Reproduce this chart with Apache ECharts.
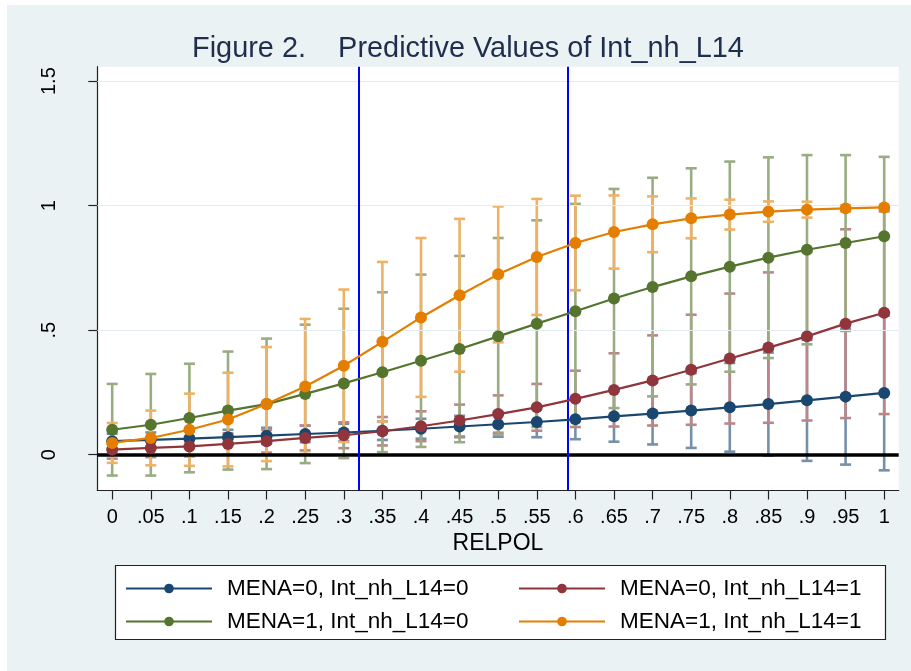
<!DOCTYPE html>
<html>
<head>
<meta charset="utf-8">
<script src="https://cdn.jsdelivr.net/npm/echarts@6/dist/echarts.min.js"></script>
<style>html,body{margin:0;padding:0;background:#fff}#c{width:911px;height:671px}</style>
</head>
<body>
<div id="c"></div>
<script>
const xVals = [0,0.05,0.1,0.15,0.2,0.25,0.3,0.35,0.4,0.45,0.5,0.55,0.6,0.65,0.7,0.75,0.8,0.85,0.9,0.95,1];
const xTickLabels = ['0','.05','.1','.15','.2','.25','.3','.35','.4','.45','.5','.55','.6','.65','.7','.75','.8','.85','.9','.95','1'];
const yTickValues = [0,0.5,1,1.5];
const yTickLabels = ['0','.5','1','1.5'];
const refLinesX = [0.32,0.59];
const seriesNames = ['MENA=0, Int_nh_L14=0','MENA=0, Int_nh_L14=1','MENA=1, Int_nh_L14=0','MENA=1, Int_nh_L14=1'];

const m00 = [0.054,0.059,0.064,0.070,0.076,0.083,0.089,0.096,0.104,0.113,0.122,0.131,0.142,0.154,0.165,0.177,0.190,0.203,0.218,0.233,0.248];
const m00Lo = [0.024,0.029,0.034,0.040,0.044,0.050,0.054,0.059,0.064,0.070,0.072,0.070,0.062,0.052,0.041,0.027,0.012,-0.004,-0.025,-0.040,-0.063];
const m00Hi = [0.084,0.089,0.094,0.100,0.108,0.116,0.124,0.133,0.144,0.156,0.172,0.192,0.222,0.256,0.289,0.327,0.368,0.410,0.461,0.506,0.559];

const m01 = [0.020,0.027,0.033,0.043,0.054,0.067,0.078,0.094,0.114,0.137,0.163,0.190,0.224,0.260,0.298,0.341,0.386,0.430,0.475,0.526,0.570];
const m01Lo = [-0.016,-0.010,-0.007,0.000,0.008,0.017,0.026,0.037,0.054,0.073,0.088,0.096,0.111,0.113,0.117,0.120,0.125,0.128,0.137,0.147,0.163];
const m01Hi = [0.056,0.064,0.073,0.086,0.100,0.117,0.130,0.151,0.174,0.201,0.238,0.284,0.337,0.407,0.479,0.562,0.647,0.732,0.813,0.905,0.977];

const m10 = [0.100,0.120,0.147,0.177,0.203,0.244,0.286,0.331,0.377,0.424,0.475,0.526,0.576,0.627,0.673,0.716,0.755,0.791,0.823,0.850,0.877];
const m10Lo = [-0.084,-0.084,-0.071,-0.060,-0.058,-0.034,-0.014,0.010,0.031,0.050,0.080,0.111,0.145,0.187,0.234,0.282,0.333,0.388,0.443,0.497,0.558];
const m10Hi = [0.284,0.324,0.365,0.414,0.466,0.522,0.586,0.652,0.723,0.798,0.870,0.941,1.007,1.067,1.112,1.150,1.177,1.194,1.203,1.203,1.196];

const m11 = [0.047,0.067,0.100,0.141,0.203,0.274,0.357,0.453,0.551,0.640,0.724,0.794,0.850,0.894,0.925,0.949,0.964,0.976,0.984,0.989,0.993];
const m11Lo = [-0.033,-0.043,-0.045,-0.047,-0.026,0.003,0.051,0.132,0.232,0.333,0.451,0.561,0.660,0.747,0.813,0.869,0.904,0.935,0.952,0.977,0.987];
const m11Hi = [0.127,0.177,0.245,0.329,0.432,0.545,0.663,0.774,0.870,0.947,0.997,1.027,1.040,1.041,1.037,1.029,1.024,1.017,1.016,1.001,0.999];

const lineColors = ['#1a476f','#90353b','#55752f','#e37e00'];
const ciColors = ['#7591a9','#bc8689','#99ac82','#eeb266'];
const FONT = "'Liberation Sans', Arial, sans-serif";

const pts = [m00,m01,m10,m11];
const los = [m00Lo,m01Lo,m10Lo,m11Lo];
const his = [m00Hi,m01Hi,m10Hi,m11Hi];

function ciSeries(k){
  return {
    type:'custom', name:'ci'+k, z:2, silent:true,
    data: xVals.map((x,i)=>[x, los[k][i], his[k][i]]),
    renderItem: function(params, api){
      const x = api.value(0), lo = api.value(1), hi = api.value(2);
      const a = api.coord([x,lo]), b = api.coord([x,hi]);
      const w = 5.5;
      const st = {stroke: ciColors[k], lineWidth: 2.6};
      return {type:'group', children:[
        {type:'line', shape:{x1:a[0],y1:a[1],x2:b[0],y2:b[1]}, style:st},
        {type:'line', shape:{x1:a[0]-w,y1:a[1],x2:a[0]+w,y2:a[1]}, style:st},
        {type:'line', shape:{x1:b[0]-w,y1:b[1],x2:b[0]+w,y2:b[1]}, style:st}
      ]};
    }
  };
}
function lineSeries(k){
  return {
    type:'line', name:seriesNames[k], z:5,
    data: xVals.map((x,i)=>[x, pts[k][i]]),
    symbol:'circle', symbolSize:12, showSymbol:true,
    lineStyle:{color:lineColors[k], width:2.2},
    itemStyle:{color:lineColors[k]},
    emphasis:{disabled:true}, animation:false
  };
}
function labelFor(vals, labels, v){
  for (let i=0;i<vals.length;i++){ if (Math.abs(vals[i]-v)<1e-9) return labels[i]; }
  return '';
}

const chart = echarts.init(document.getElementById('c'), null, {renderer:'canvas'});
const legendText = {fontFamily:FONT, fontSize:22.5, color:'#000', lineHeight:22, padding:[0,0,0,10]};
const option = {
  backgroundColor:'#ffffff',
  animation:false,
  graphic:[
    {type:'rect', z:-10, shape:{x:7,y:5,width:904,height:666}, style:{fill:'#eaf2f3'}},
    {type:'rect', z:0, shape:{x:115.5,y:565.5,width:770,height:74}, style:{fill:'#ffffff', stroke:'#222', lineWidth:1.2}}
  ],
  title:{
    text:'Figure 2.    Predictive Values of Int_nh_L14',
    left:187, top:30,
    textStyle:{fontFamily:FONT, fontSize:28.9, fontWeight:'normal', color:'#1f2d4e'}
  },
  grid:{left:97.3, right:12.3, top:66.7, bottom:180.5, show:true, backgroundColor:'#ffffff', borderWidth:0, containLabel:false},
  xAxis:{
    type:'value', min:-0.0193, max:1.0188,
    name:'RELPOL', nameLocation:'middle', nameGap:40,
    nameTextStyle:{fontFamily:FONT, fontSize:23, color:'#000'},
    axisLine:{show:true, onZero:false, lineStyle:{color:'#222', width:1.2}},
    axisTick:{show:true, length:9, customValues:xVals, lineStyle:{color:'#222', width:1.2}},
    axisLabel:{customValues:xVals, margin:17, fontFamily:FONT, fontSize:20, color:'#000',
      formatter:(v)=>labelFor(xVals,xTickLabels,v)},
    splitLine:{show:false}
  },
  yAxis:{
    type:'value', min:-0.144, max:1.558,
    axisLine:{show:true, onZero:false, lineStyle:{color:'#222', width:1.2}},
    axisTick:{show:true, length:9, customValues:yTickValues, lineStyle:{color:'#222', width:1.2}},
    axisLabel:{customValues:yTickValues, rotate:90, margin:38, fontFamily:FONT, fontSize:20, color:'#000',
      formatter:(v)=>labelFor(yTickValues,yTickLabels,v)},
    splitLine:{show:false}
  },
  legend:[
    {data:[seriesNames[0],seriesNames[2]], orient:'vertical', left:120, top:572,
     itemWidth:86, itemHeight:12, itemGap:10, textStyle:legendText},
    {data:[seriesNames[1],seriesNames[3]], orient:'vertical', left:513, top:572,
     itemWidth:86, itemHeight:12, itemGap:10, textStyle:legendText}
  ],
  series:[
    {type:'line', name:'grid', data:[], z:1, silent:true,
     markLine:{silent:true, symbol:'none', label:{show:false},
       lineStyle:{color:'#e2ebef', width:1.2, type:'solid'},
       data: yTickValues.filter(v=>v>0).map(v=>({yAxis:v}))}},
    ciSeries(0), ciSeries(1), ciSeries(2), ciSeries(3),
    {type:'line', name:'ref', data:[], z:3, silent:true,
     markLine:{silent:true, symbol:'none', label:{show:false}, animation:false,
       data:[
         {yAxis:0, lineStyle:{color:'#000', width:3.5, type:'solid'}},
         ...refLinesX.map(v=>({xAxis:v, lineStyle:{color:'#0000ff', width:2, type:'solid'}}))
       ]}},
    lineSeries(0), lineSeries(1), lineSeries(2), lineSeries(3)
  ]
};
chart.setOption(option);
</script>
</body>
</html>
